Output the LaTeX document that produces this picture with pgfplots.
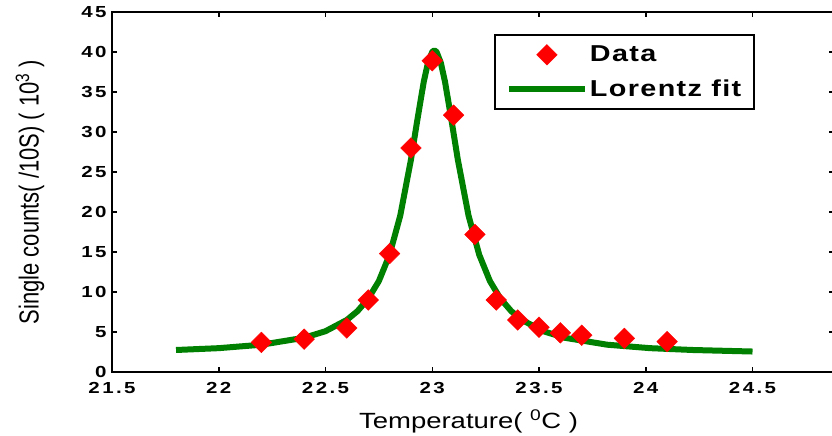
\documentclass[border=0pt]{standalone}
\usepackage{fontspec}
\setmainfont{Liberation Sans}
\usepackage{pgfplots}
\pgfplotsset{compat=1.18}
\newfontfamily\tickfont{Liberation Sans Bold}[FakeStretch=1.28,LetterSpace=15]
\newfontfamily\labelfont{Liberation Sans}[FakeStretch=1.25]
\newfontfamily\legendfont{Liberation Sans Bold}[FakeStretch=1.25,LetterSpace=6]
\definecolor{mgreen}{RGB}{0,128,0}
\definecolor{mred}{RGB}{255,0,0}
\begin{document}
\begin{tikzpicture}
\begin{axis}[
  at={(0pt,0pt)}, anchor=south west,
  scale only axis, width=722pt, height=360pt,
  xmin=21.5, xmax=24.8817, ymin=0, ymax=45,
  xtick={21.5,22,22.5,23,23.5,24,24.5},
  ytick={0,5,10,15,20,25,30,35,40,45},
  /pgf/number format/assume math mode=true,
  /pgf/number format/fixed,
  tick label style={font=\tickfont\fontsize{16}{19}\selectfont},
  xticklabel style={anchor=north, yshift=-7pt},
  yticklabel style={anchor=east, xshift=-2pt},
  tick align=inside, major tick length=5pt,
  tick style={line width=1.5pt, black},
  axis line style={line width=2.5pt},
  every axis x label/.style={at={(axis cs:23.17,0)}, anchor=base, yshift=-56pt},
  every axis y label/.style={at={(axis description cs:0,0.5)}, xshift=-82pt, anchor=center, rotate=90},
  xlabel={\labelfont\fontsize{22}{26}\selectfont Temperature( \textsuperscript{0}C )},
  ylabel={\scalebox{1}[1.25]{\fontsize{22}{26}\selectfont Single counts( /10S) ( 10\textsuperscript{3} )}},
  legend image code/.code={\draw[mark repeat=2,mark phase=2,#1] plot coordinates {(0pt,0pt) (38pt,0pt) (76pt,0pt)};},
  legend cell align=left,
  legend style={at={(axis cs:23.289,42.23)}, anchor=north west, draw=black, line width=2pt, fill=white,
    font=\legendfont\fontsize{23}{27}\selectfont, inner xsep=11pt, inner ysep=9pt, row sep=12pt,
    nodes={inner sep=2pt}},
]
\addplot[only marks, color=mred, mark=square*, mark size=7.3pt, mark options={rotate=45, draw=mred, fill=mred, line width=0.4pt}]
coordinates {(22.2,3.7) (22.4,4.1) (22.6,5.5) (22.7,9.0) (22.8,14.8) (22.9,28.0) (23.0,38.9) (23.1,32.1) (23.2,17.2) (23.3,9.0) (23.4,6.5) (23.5,5.6) (23.6,4.9) (23.7,4.6) (23.9,4.2) (24.1,3.8)};
\addlegendentry{Data}
\addplot[mgreen, line width=6pt, no marks, line join=round]
coordinates {(21.8,2.75) (22.0,2.98) (22.2,3.41) (22.4,4.28) (22.5,5.10) (22.6,6.51) (22.65,7.61) (22.7,9.15) (22.75,11.37) (22.8,14.65) (22.85,19.54) (22.9,26.51) (22.93,31.48) (22.96,36.25) (22.98,38.67) (23.0,40.02) (23.01,40.2) (23.02,40.02) (23.04,38.67) (23.06,36.25) (23.09,31.48) (23.12,26.51) (23.17,19.54) (23.22,14.65) (23.27,11.37) (23.32,9.15) (23.37,7.61) (23.42,6.51) (23.52,5.10) (23.62,4.28) (23.82,3.41) (24.02,2.98) (24.22,2.75) (24.5,2.56)};
\addlegendentry{Lorentz fit}
\end{axis}
\pgfresetboundingbox
\useasboundingbox (-112pt,-64pt) rectangle (720pt,372pt);
\end{tikzpicture}
\end{document}
